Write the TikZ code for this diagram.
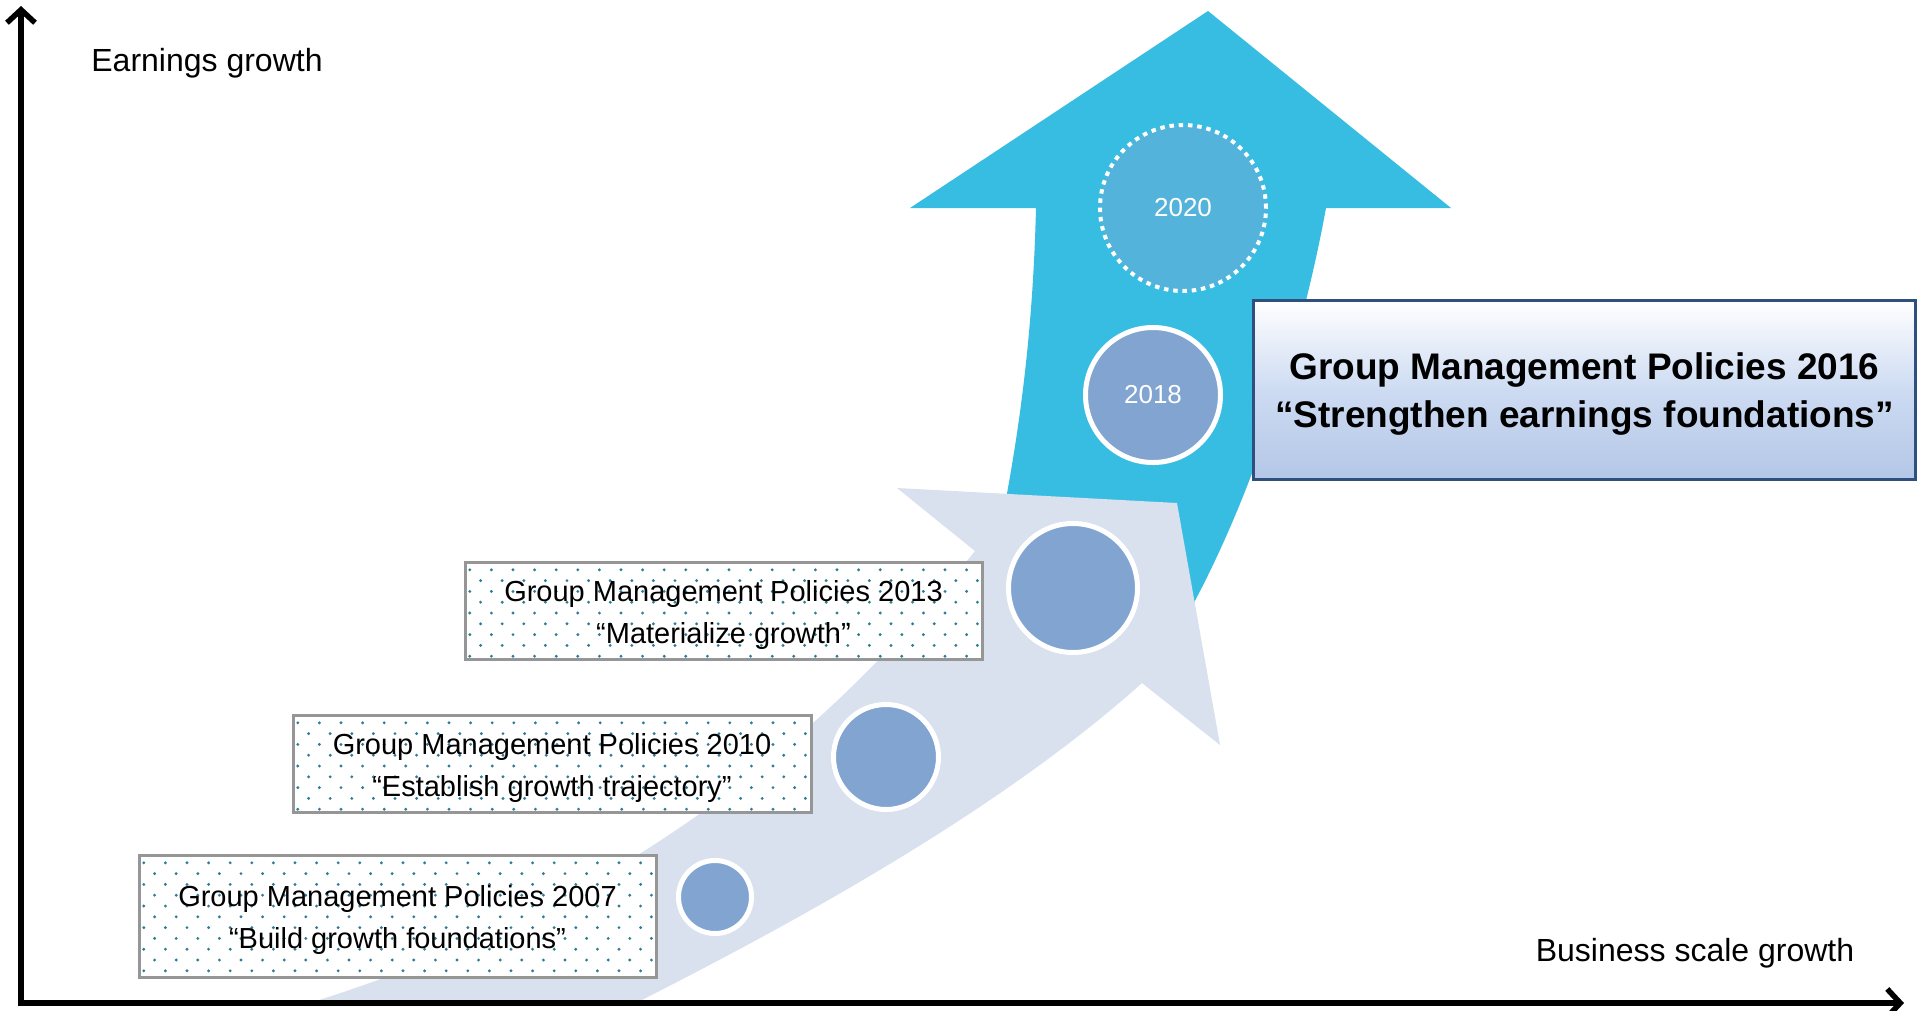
\documentclass[tikz,border=0pt]{standalone}
\usepackage{fontspec}
\setmainfont{Liberation Sans}
\usetikzlibrary{arrows.meta}
\definecolor{upblue}{RGB}{56,189,226}
\definecolor{paleblue}{RGB}{217,224,238}
\definecolor{stepblue}{RGB}{130,164,208}
\definecolor{goalblue}{RGB}{83,179,219}
\definecolor{dotteal}{RGB}{45,125,148}
\definecolor{frameblue}{RGB}{47,79,127}
\definecolor{framegray}{RGB}{150,150,150}
\definecolor{boxmid}{RGB}{205,219,242}
\definecolor{boxbot}{RGB}{180,199,231}
\tikzset{
  axisline/.style={line width=5.5pt,-{Straight Barb[length=13pt,width=28pt]}},
  axislabel/.style={font=\fontsize{32}{38}\selectfont},
  stepdot/.style={circle,fill=stepblue,draw=white,line width=5pt,inner sep=0pt},
  yeartext/.style={text=white,font=\fontsize{26}{30}\selectfont},
  pfill/.style={rectangle,fill=white,inner sep=0pt},
  pframe/.style={rectangle,draw=framegray,line width=3pt,inner sep=0pt},
  ptext/.style={align=center,inner sep=0pt,yshift=-4pt,font=\fontsize{29}{42}\selectfont},
  goalbox/.style={rectangle,draw=frameblue,line width=3.5pt,top color=white,bottom color=boxbot,middle color=boxmid},
  goaltext/.style={align=center,inner sep=0pt,yshift=-4pt,font=\bfseries\fontsize{37}{48}\selectfont}
}
\newcommand{\policy}[6]{%
  \node[pfill,minimum width=#4,minimum height=#5] (#1) at (#2,#3) {};
  \begin{scope}
    \clip (#1.south west) rectangle (#1.north east);
    \foreach \j in {0,...,11}
      \foreach \i in {0,...,24}
        \fill[dotteal,shift={(#1.north west)}] ({\i*21.6+mod(\j,2)*10.8+5},{\j*10.8+8}) circle (1.6pt);
  \end{scope}
  \node[pframe,minimum width=#4,minimum height=#5] at (#1.center) {};
  \node[ptext] at (#1.center) {#6};
}

\begin{document}
\begin{tikzpicture}[x=1pt,y=-1pt]
  \useasboundingbox (0,0) rectangle (1923,1010);
  \fill[white] (0,0) rectangle (1923,1010);

  \fill[upblue] (1000,530) .. controls (1020,430) and (1033,330) .. (1036,208) -- (910,208) -- (1208,11)
    -- (1451,208) -- (1326,208) .. controls (1300,350) and (1250,500) .. (1190,610) -- (1180,620) -- cycle;
  \fill[paleblue] (300,1006) .. controls (580,920) and (790,780) .. (975,551) -- (897,488) -- (1177,503)
    -- (1220,745) -- (1142,683) .. controls (1000,810) and (800,920) .. (630,1006) -- cycle;

  \node[circle,fill=goalblue,draw=white,line width=4pt,dash pattern=on 4.5pt off 4.8pt,inner sep=0pt,minimum size=166pt] (c2020) at (1183,208) {};
  \node[yeartext] at (c2020.center) {2020};
  \node[stepdot,minimum size=135pt] (c2018) at (1153,395) {};
  \node[yeartext] at (c2018.center) {2018};
  \node[stepdot,minimum size=129pt] (c2013) at (1073,588) {};
  \node[stepdot,minimum size=105pt] (c2010) at (886,757) {};
  \node[stepdot,minimum size=73pt] (c2007) at (715,897) {};

  \policy{p2013}{723.5}{610.5}{517pt}{97pt}{Group Management Policies 2013\\“Materialize growth”}
  \policy{p2010}{552}{763.5}{518pt}{97pt}{Group Management Policies 2010\\“Establish growth trajectory”}
  \policy{p2007}{397.5}{916}{517pt}{122pt}{Group Management Policies 2007\\“Build growth foundations”}

  \node[goalbox,minimum width=662pt,minimum height=179pt] (p2016) at (1584.5,390) {};
  \node[goaltext] at (p2016.center) {Group Management Policies 2016\\“Strengthen earnings foundations”};

  \coordinate (O) at (21,1003);
  \coordinate (ytop) at (21,6);
  \coordinate (xend) at (1904,1003);
  \draw[axisline] (O) -- (ytop);
  \draw[axisline] ([xshift=-2.75pt]O) -- (xend);
  \node[axislabel] (ylab) at (207,63) {Earnings growth};
  \node[axislabel] (xlab) at (1695,953) {Business scale growth};
\end{tikzpicture}
\end{document}
